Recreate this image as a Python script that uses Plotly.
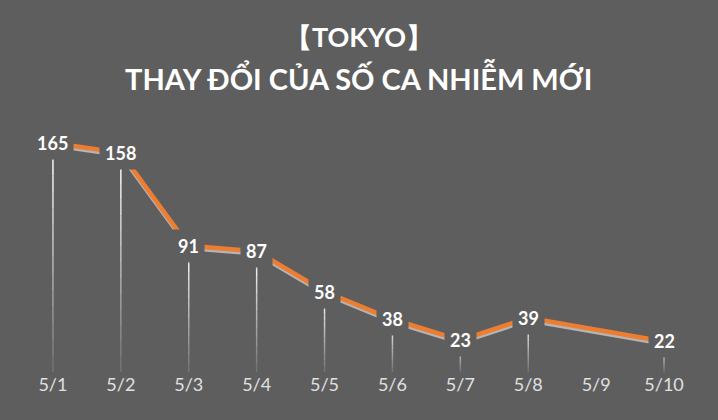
import plotly.graph_objects as go

days = ["5/1", "5/2", "5/3", "5/4", "5/5", "5/6", "5/7", "5/8", "5/9", "5/10"]
cases = [165, 158, 91, 87, 58, 38, 23, 39, None, 22]

BG = "#5e5e5e"
ORANGE = "#ED7D31"
FONT = "Lato"

y_top = 181.6
shadow_shift = 2.0

fig = go.Figure()

# shadow line (secondary axis shifted slightly down)
fig.add_trace(go.Scatter(x=days, y=cases, mode="lines", connectgaps=True,
                         line=dict(color="#b4b4b4", width=3.5), yaxis="y2",
                         hoverinfo="skip", showlegend=False))
# main orange line on a third overlaying axis so it sits above the shadow
fig.add_trace(go.Scatter(x=days, y=cases, mode="lines", connectgaps=True,
                         line=dict(color=ORANGE, width=4.5), yaxis="y3",
                         showlegend=False))

# drop lines with fading gradient
n_seg = 14
for d, v in zip(days, cases):
    if v is None:
        continue
    for k in range(n_seg):
        y0 = v * k / n_seg
        y1 = v * (k + 1) / n_seg
        op = 0.08 + 0.92 * (k + 1) / n_seg
        fig.add_shape(type="line", xref="x", yref="y", x0=d, x1=d, y0=y0, y1=y1,
                      line=dict(color="rgba(255,255,255,%.3f)" % op, width=1.5),
                      layer="below")
    fig.add_annotation(x=d, y=v, xref="x", yref="y", text="<b>%d</b>" % v,
                       showarrow=False, bgcolor=BG, borderpad=5,
                       font=dict(family=FONT, size=18, color="white"))

plot_h = 420 - 120 - 48
fig.add_annotation(x=0.5, y=(372 - 36) / plot_h, xref="paper", yref="paper",
                   text="<b>【TOKYO】</b>", showarrow=False, yanchor="middle",
                   font=dict(family=FONT, size=27, color="white"))
fig.add_annotation(x=0.5, y=(372 - 78) / plot_h, xref="paper", yref="paper",
                   text="<b>THAY ĐỔI CỦA SỐ CA NHIỄM MỚI</b>", showarrow=False,
                   yanchor="middle",
                   font=dict(family=FONT, size=29, color="white"))

fig.update_layout(
    width=718, height=420,
    paper_bgcolor=BG, plot_bgcolor=BG,
    margin=dict(l=19, r=20, t=120, b=48),
    xaxis=dict(showgrid=False, zeroline=False, showline=False, ticks="",
               range=[-0.5, len(days) - 0.5], autorange=False,
               tickfont=dict(family=FONT, size=18, color="#e0e0e0")),
    yaxis=dict(range=[0, y_top], visible=False, showgrid=False),
    yaxis2=dict(range=[shadow_shift, y_top + shadow_shift], overlaying="y",
                visible=False, showgrid=False),
    yaxis3=dict(range=[0, y_top], overlaying="y",
                visible=False, showgrid=False),
)

fig.write_html("out.html", config={"displayModeBar": False},
               post_script="document.body.style.margin='0';document.body.style.overflow='hidden';")
